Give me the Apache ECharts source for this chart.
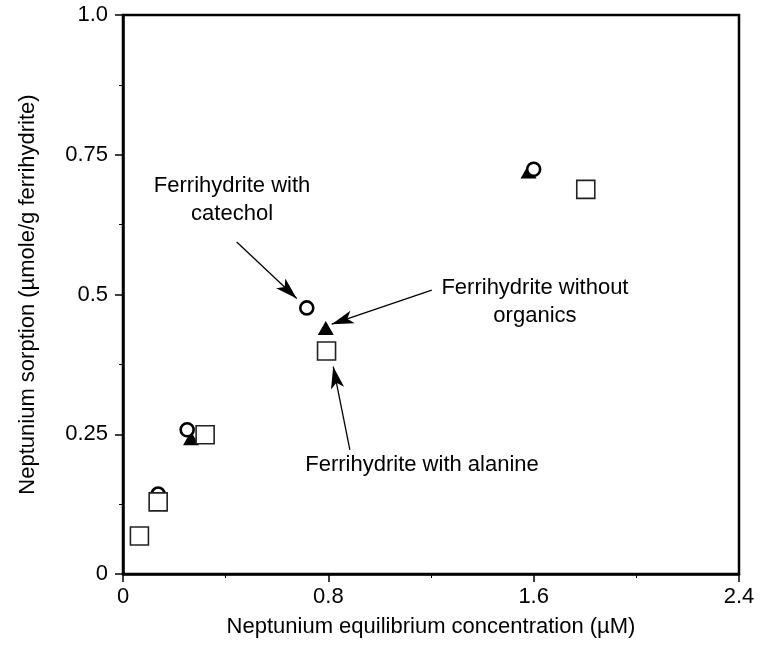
<!DOCTYPE html>
<html>
<head>
<meta charset="utf-8">
<script src="https://cdn.jsdelivr.net/npm/echarts@6/dist/echarts.min.js"></script>
<style>
html,body{margin:0;padding:0;background:#fff;}
#chart{width:762px;height:649px;}
</style>
</head>
<body>
<div id="chart"></div>
<script>
// ---- data ----
const xTickLabels = ['0', '0.8', '1.6', '2.4'];
const yTickLabels = ['0', '0.25', '0.5', '0.75', '1.0'];

const withoutOrganics = [[0.265, 0.243], [0.79, 0.44], [1.58, 0.72]];
const withCatechol = [[0.137, 0.143], [0.25, 0.258], [0.716, 0.476], [1.60, 0.724]];
const withAlanine = [[0.064, 0.068], [0.137, 0.129], [0.32, 0.249], [0.793, 0.399], [1.803, 0.688]];

const annotationTexts = ['Ferrihydrite with\ncatechol', 'Ferrihydrite without\norganics', 'Ferrihydrite with alanine'];
const annotationAt = [[0.425, 0.669], [1.605, 0.487], [1.165, 0.195]];
const arrowFrom = [[0.443, 0.594], [1.203, 0.508], [0.884, 0.222]];
const arrowTo = [[0.677, 0.493], [0.813, 0.447], [0.819, 0.371]];

const FONT = 'Liberation Sans, Arial, Helvetica, sans-serif';
const chart = echarts.init(document.getElementById('chart'));

const axisCommon = {
  axisLine: { show: true, onZero: false, lineStyle: { color: '#000', width: 2.5 } },
  axisTick: { show: true, inside: false, length: 8, lineStyle: { color: '#000', width: 1.5 } },
  minorTick: { show: true, splitNumber: 2, length: 4, lineStyle: { color: '#000', width: 1 } },
  splitLine: { show: false },
  nameTextStyle: { color: '#000', fontFamily: FONT, fontSize: 22 }
};

chart.setOption({
  animation: false,
  backgroundColor: '#fff',
  grid: { left: 123, right: 23, top: 15, bottom: 75, show: true, borderColor: '#000', borderWidth: 2.5, containLabel: false },
  xAxis: Object.assign({}, axisCommon, {
    type: 'value', min: 0, max: 2.4, interval: 0.8,
    name: 'Neptunium equilibrium concentration (\u00b5M)',
    nameLocation: 'middle', nameGap: 42,
    axisLabel: { color: '#000', fontFamily: FONT, fontSize: 22, margin: 12,
      formatter: v => xTickLabels[Math.round(v / 0.8)] }
  }),
  yAxis: Object.assign({}, axisCommon, {
    type: 'value', min: 0, max: 1, interval: 0.25,
    name: 'Neptunium sorption (\u00b5mole/g ferrihydrite)',
    nameLocation: 'middle', nameGap: 84,
    axisLabel: { color: '#000', fontFamily: FONT, fontSize: 22, margin: 15,
      formatter: v => yTickLabels[Math.round(v / 0.25)] }
  }),
  series: [
    {
      name: 'Ferrihydrite without organics', type: 'scatter', data: withoutOrganics,
      symbol: 'triangle', symbolSize: [16, 14], z: 2,
      itemStyle: { color: '#000', opacity: 1 }, emphasis: { disabled: true }
    },
    {
      name: 'Ferrihydrite with catechol', type: 'scatter', data: withCatechol,
      symbol: 'circle', symbolSize: 13, z: 3,
      itemStyle: { color: '#fff', borderColor: '#000', borderWidth: 2.6, opacity: 1 }, emphasis: { disabled: true }
    },
    {
      name: 'Ferrihydrite with alanine', type: 'scatter', data: withAlanine,
      symbol: 'rect', symbolSize: 18, z: 4,
      itemStyle: { color: '#fff', borderColor: '#222', borderWidth: 1.6, opacity: 1 }, emphasis: { disabled: true }
    },
    {
      name: 'annotations', type: 'scatter', z: 5, silent: true,
      data: annotationAt.map((p, i) => [p[0], p[1], annotationTexts[i]]),
      symbolSize: 0,
      itemStyle: { opacity: 1 },
      label: {
        show: true, position: 'inside', formatter: p => p.data[2],
        color: '#000', fontFamily: FONT, fontSize: 22, lineHeight: 28, align: 'center', verticalAlign: 'middle'
      },
      markLine: {
        silent: true, symbol: ['none', 'arrow'], symbolSize: [10, 22],
        lineStyle: { color: '#000', width: 1.3, type: 'solid', opacity: 1 },
        itemStyle: { color: '#000', opacity: 1 },
        label: { show: false },
        data: arrowFrom.map((f, i) => [{ coord: f }, { coord: arrowTo[i] }])
      }
    }
  ]
});
</script>
</body>
</html>
